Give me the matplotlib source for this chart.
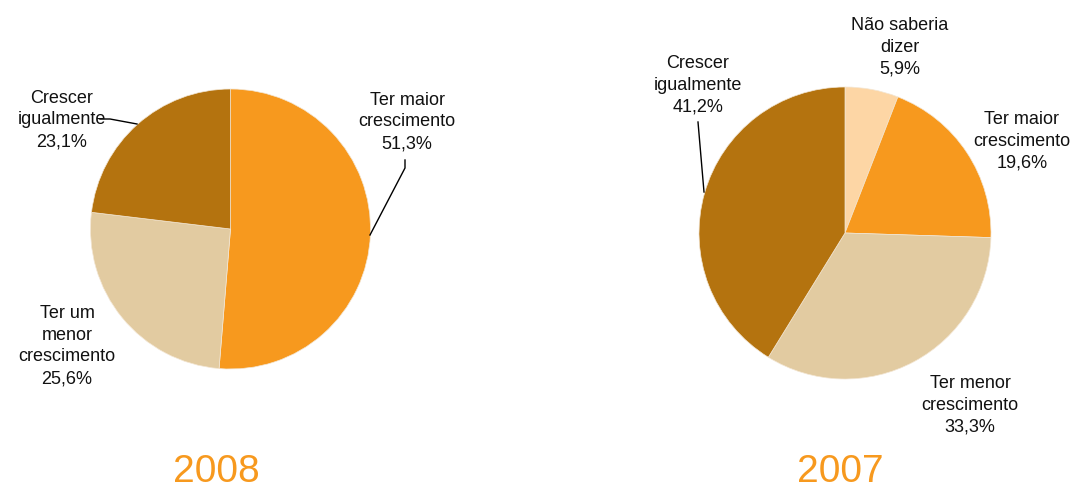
import matplotlib
matplotlib.use("Agg")
import matplotlib.pyplot as plt

plt.rcParams['font.family'] = ['Liberation Sans', 'DejaVu Sans']

# 2008
labels_2008 = ["Ter maior\ncrescimento", "Ter um\nmenor\ncrescimento", "Crescer\nigualmente"]
values_2008 = [51.3, 25.6, 23.1]
colors_2008 = ["#F7991E", "#E2CBA1", "#B4730F"]

# 2007
labels_2007 = ["Não saberia\ndizer", "Ter maior\ncrescimento", "Ter menor\ncrescimento", "Crescer\nigualmente"]
values_2007 = [5.9, 19.6, 33.3, 41.2]
colors_2007 = ["#FDD6A5", "#F7991E", "#E2CBA1", "#B4730F"]

years = ["2008", "2007"]

W, H = 1073, 488
fig = plt.figure(figsize=(W / 100, H / 100), dpi=100)
ax = fig.add_axes([0, 0, 1, 1])
ax.set_xlim(0, W)
ax.set_ylim(0, H)
ax.set_aspect('equal')
ax.axis('off')

def Y(y):
    return H - y

def fmt(v):
    return f"{v:.1f}".replace(".", ",") + "%"

# pies
ax.pie(values_2008, colors=colors_2008, startangle=90, counterclock=False,
       center=(230.5, Y(229)), radius=140,
       wedgeprops=dict(edgecolor="#F3E6D3", linewidth=0.5))
ax.pie(values_2007, colors=colors_2007, startangle=90, counterclock=False,
       center=(845, Y(233)), radius=146,
       wedgeprops=dict(edgecolor="#F3E6D3", linewidth=0.5))
ax.set_xlim(0, W)
ax.set_ylim(0, H)

fs = 13
ls = 1.37
# label positions (centre of text block)
pos_2008 = [(407, 122), (67, 346), (62, 120)]
pos_2007 = [(900, 47), (1022, 141), (970, 405), (698, 85)]

for lab, v, (x, y) in zip(labels_2008, values_2008, pos_2008):
    ax.text(x, Y(y), lab + "\n" + fmt(v), ha='center', va='center',
            fontsize=fs, linespacing=ls, color="#111111")
for lab, v, (x, y) in zip(labels_2007, values_2007, pos_2007):
    ax.text(x, Y(y), lab + "\n" + fmt(v), ha='center', va='center',
            fontsize=fs, linespacing=ls, color="#111111")

# leader lines
ax.plot([100, 110, 137], [Y(119), Y(119), Y(124)], color="black", lw=1)
ax.plot([405, 405, 370], [Y(160), Y(168), Y(235)], color="black", lw=1)
ax.plot([698, 704], [Y(122), Y(192)], color="black", lw=1)

# years
ax.text(216, Y(472), years[0], ha='center', va='center', fontsize=28, color="#F7991E")
ax.text(840, Y(472), years[1], ha='center', va='center', fontsize=28, color="#F7991E")

fig.savefig("out.png", dpi=100)
